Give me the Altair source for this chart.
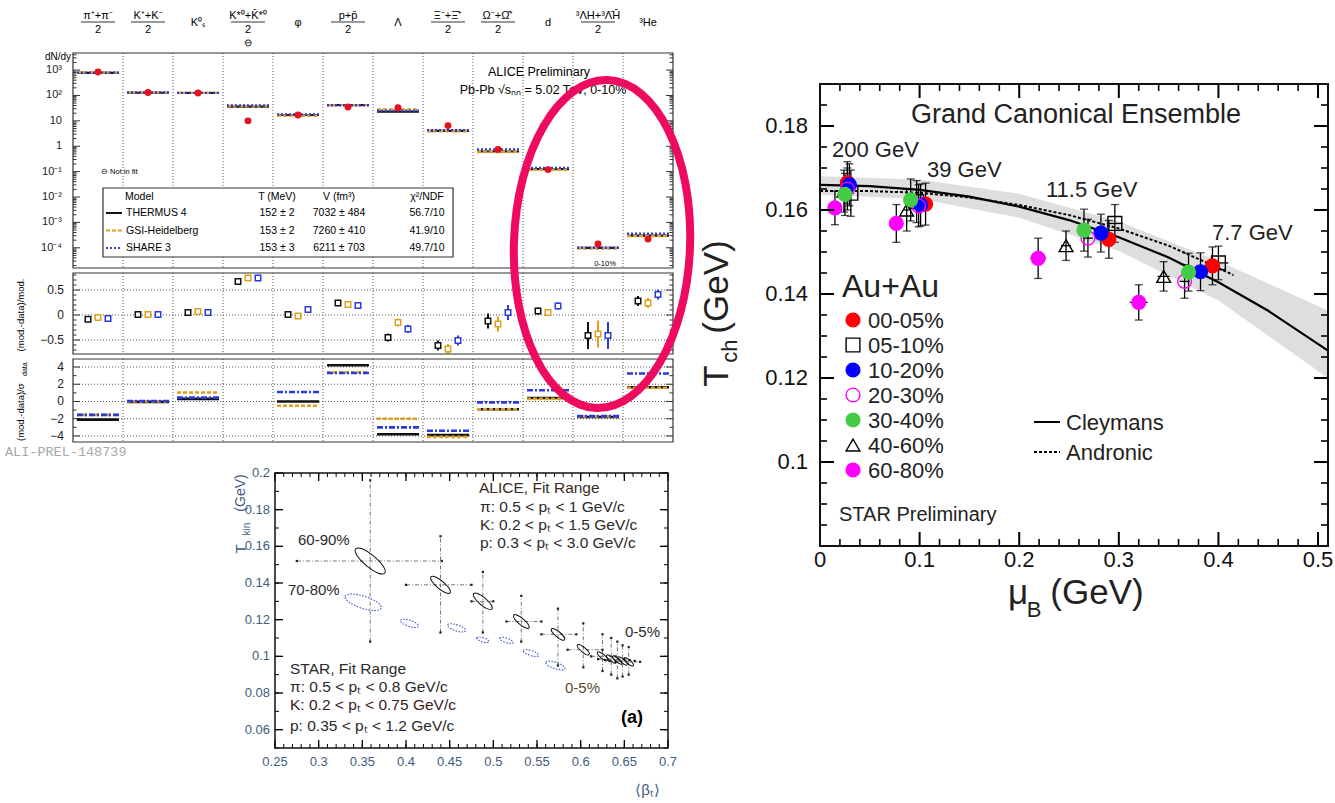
import math
import altair as alt
import pandas as pd

FONT = "Liberation Sans"
ONE = pd.DataFrame({"k": [0]})

# ============================ DATA ============================
# ---- ALICE Pb-Pb 5.02 TeV 0-10 %: species (column headers) ----
header_main = ["π⁺+π⁻", "K⁺+K⁻", "K⁰ₛ", "K*⁰+K\u0304*⁰", "φ", "p+p\u0304", "Λ",
               "Ξ⁻+Ξ\u0304⁺", "Ω⁻+Ω\u0304⁺", "d", "³ΛH+³Λ\u0304H\u0304", "³He"]
header_denom = ["2", "2", "", "2", "", "2", "", "2", "2", "", "2", ""]

# dN/dy : data and the three thermal-model fits
yield_data = [840, 130, 125, 10, 17, 35, 33, 6.5, 0.75, 0.12, 1.4e-4, 2.2e-4]
yield_thermus = [770, 128, 125, 36, 17, 42, 23, 4.0, 0.62, 0.125, 1.0e-4, 3.0e-4]
yield_gsi = [800, 130, 128, 38, 16, 41, 28, 3.9, 0.60, 0.12, 0.95e-4, 2.9e-4]
yield_share = [790, 130, 126, 40, 18, 41, 25, 4.3, 0.75, 0.14, 1.0e-4, 3.6e-4]

# (mod.-data)/mod.
dev_thermus = [-0.085, 0.01, 0.05, 0.67, 0.01, 0.24, -0.45, -0.61, -0.12, 0.08, -0.41, 0.28]
dev_gsi = [-0.05, 0.01, 0.07, 0.74, -0.02, 0.21, -0.15, -0.68, -0.18, 0.05, -0.38, 0.24]
dev_share = [-0.07, 0.01, 0.05, 0.74, 0.11, 0.19, -0.28, -0.51, 0.05, 0.18, -0.41, 0.41]
dev_err = [0.03, 0.02, 0.02, 0.03, 0.05, 0.03, 0.08, 0.10, 0.15, 0.07, 0.27, 0.10]

# (mod.-data)/sigma_data   (K* not in fit)
nsig_thermus = [-2.1, -0.05, 0.3, None, 0.0, 4.2, -3.8, -3.9, -0.9, 0.4, -1.8, 1.65]
nsig_gsi = [-1.55, 0.0, 1.05, None, -0.5, 3.4, -2.0, -4.1, -0.9, 0.3, -1.75, 1.6]
nsig_share = [-1.55, 0.05, 0.45, None, 1.1, 3.3, -3.0, -3.4, -0.1, 1.3, -1.7, 3.25]

model_names = ["THERMUS 4", "GSI-Heidelberg", "SHARE 3"]
model_T = ["152 ± 2", "153 ± 2", "153 ± 3"]
model_V = ["7032 ± 484", "7260 ± 410", "6211 ± 703"]
model_chi2 = ["56.7/10", "41.9/10", "49.7/10"]

yield_ticks = [1e-4, 1e-3, 1e-2, 1e-1, 1, 10, 100, 1000]
yield_tick_text = ["10⁻⁴", "10⁻³", "10⁻²", "10⁻¹", "1", "10", "10²", "10³"]
dev_ticks = [-0.5, 0, 0.5]
dev_tick_text = ["−0.5", "0", "0.5"]
dev_minor = [-0.7, -0.6, -0.4, -0.3, -0.2, -0.1, 0.1, 0.2, 0.3, 0.4, 0.6, 0.7, 0.8]
nsig_ticks = [-4, -2, 0, 2, 4]
nsig_tick_text = ["−4", "−2", "0", "2", "4"]
nsig_minor = [-3, -1, 1, 3]

# ---- T_kin vs <beta_T> (ALICE / STAR blast-wave) ----
alice_beta = [0.359, 0.4395, 0.488, 0.532, 0.574, 0.603, 0.625, 0.635, 0.642, 0.648, 0.655]
alice_tkin = [0.152, 0.139, 0.130, 0.119, 0.112, 0.1036, 0.100, 0.0985, 0.098, 0.0975, 0.097]
alice_beta_lo = [0.275, 0.400, 0.475, 0.515, 0.555, 0.585, 0.612, 0.620, 0.628, 0.633, 0.640]
alice_beta_hi = [0.441, 0.475, 0.500, 0.555, 0.595, 0.625, 0.640, 0.650, 0.656, 0.662, 0.668]
alice_tkin_lo = [0.108, 0.113, 0.113, 0.108, 0.095, 0.094, 0.092, 0.090, 0.088, 0.089, 0.090]
alice_tkin_hi = [0.196, 0.1655, 0.146, 0.133, 0.126, 0.118, 0.112, 0.110, 0.108, 0.106, 0.105]
star_beta = [0.351, 0.404, 0.458, 0.488, 0.515, 0.543, 0.571]
star_tkin = [0.1295, 0.118, 0.1155, 0.109, 0.1087, 0.1018, 0.095]
beta_ticks = [0.25, 0.3, 0.35, 0.4, 0.45, 0.5, 0.55, 0.6, 0.65, 0.7]
beta_tick_text = ["0.25", "0.3", "0.35", "0.4", "0.45", "0.5", "0.55", "0.6", "0.65", "0.7"]
tkin_ticks = [0.06, 0.08, 0.1, 0.12, 0.14, 0.16, 0.18, 0.2]
tkin_tick_text = ["0.06", "0.08", "0.1", "0.12", "0.14", "0.16", "0.18", "0.2"]

# ---- STAR T_ch vs mu_B (Grand Canonical Ensemble) ----
cent_labels = ["00-05%", "05-10%", "10-20%", "20-30%", "30-40%", "40-60%", "60-80%"]
mu_200 = [0.0275, 0.031, 0.0295, 0.0275, 0.025, 0.024, 0.015]
T_200 = [0.1665, 0.1640, 0.1660, 0.1650, 0.1637, 0.1645, 0.1605]
mu_39 = [0.106, 0.097, 0.101, 0.099, 0.091, 0.087, 0.0766]
T_39 = [0.1614, 0.1620, 0.1612, 0.1610, 0.1624, 0.1600, 0.1568]
mu_11p5 = [0.290, 0.296, 0.282, 0.269, 0.265, 0.247, 0.219]
T_11p5 = [0.1530, 0.1568, 0.1545, 0.1533, 0.1552, 0.1515, 0.1485]
mu_7p7 = [0.394, 0.400, 0.382, 0.366, 0.370, 0.345, 0.320]
T_7p7 = [0.1467, 0.1474, 0.1453, 0.1430, 0.1452, 0.1442, 0.1380]
Terr_200 = [0.0050, 0.0055, 0.0050, 0.0050, 0.0050, 0.0050, 0.0040]
Terr_39 = [0.0050, 0.0050, 0.0050, 0.0050, 0.0050, 0.0050, 0.0045]
Terr_11p5 = [0.0045, 0.0045, 0.0045, 0.0045, 0.0050, 0.0035, 0.0048]
Terr_7p7 = [0.0045, 0.0040, 0.0045, 0.0040, 0.0045, 0.0035, 0.0042]
muerr_200 = [0.003, 0.003, 0.003, 0.003, 0.003, 0.003, 0.003]
muerr_39 = [0.003, 0.004, 0.003, 0.003, 0.003, 0.003, 0.004]
muerr_11p5 = [0.005, 0.008, 0.005, 0.005, 0.005, 0.005, 0.008]
muerr_7p7 = [0.005, 0.010, 0.005, 0.005, 0.005, 0.006, 0.009]

cley_mu = [0.0, 0.05, 0.10, 0.15, 0.20, 0.25, 0.30, 0.35, 0.40, 0.45, 0.51]
cley_T = [0.1660, 0.1657, 0.1648, 0.1632, 0.1608, 0.1576, 0.1535, 0.1487, 0.1428, 0.1360, 0.1265]
andr_mu = [0.0, 0.05, 0.10, 0.15, 0.20, 0.25, 0.30, 0.35, 0.40, 0.415]
andr_T = [0.1645, 0.1645, 0.1641, 0.1630, 0.1612, 0.1588, 0.1556, 0.1515, 0.1462, 0.1445]
band_mu = [0.0, 0.1, 0.2, 0.3, 0.4, 0.51]
band_lo = [0.1637, 0.1627, 0.1582, 0.1503, 0.1385, 0.1200]
band_hi = [0.1680, 0.1672, 0.1638, 0.1572, 0.1478, 0.1360]
mu_ticks = [0.0, 0.1, 0.2, 0.3, 0.4, 0.5]
mu_tick_text = ["0", "0.1", "0.2", "0.3", "0.4", "0.5"]
tch_ticks = [0.1, 0.12, 0.14, 0.16, 0.18]
tch_tick_text = ["0.1", "0.12", "0.14", "0.16", "0.18"]

# ============================ STYLES / LAYOUT ============================
model_color = ["#111111", "#e0a01a", "#2a3ae0"]
model_dash = [[1, 0], [4, 2], [2, 2]]
model_width = [2.2, 2.6, 2.4]
nsig_dash = [[1, 0], [4, 2], [6, 2, 2, 2]]
cent_shape = ["circle", "square", "circle", "circle", "circle", "triangle-up", "circle"]
cent_stroke = ["#ff0000", "#000000", "#0000ff", "#ff00ff", "#44cc44", "#000000", "#ff00ff"]
cent_fill = ["#ff0000", "transparent", "#0000ff", "transparent", "#44cc44", "transparent", "#ff00ff"]
draw_order = ["05-10%", "40-60%", "00-05%", "10-20%", "20-30%", "30-40%", "60-80%"]
alice_contour_px = [38, 25, 24, 20, 17, 15, 13, 12, 12, 12, 12]
star_contour_px = [38, 19, 19, 13, 14, 16, 20]
ELL_H = "M-1,0 A1,0.32 0 1,1 1,0 A1,0.32 0 1,1 -1,0 Z"
ELL_V = "M0,-1 A0.537,1 0 1,1 0,1 A0.537,1 0 1,1 0,-1 Z"

# panel boxes (left, top, width, height) in page pixels
YP = (73, 53, 600, 215)
DP = (73, 273, 600, 81)
NP = (73, 359, 600, 83)
BP = (275, 473, 393, 275)
RP = (820, 84, 508, 462)


# ============================ HELPERS ============================
def S(domain, box, axis, log=False):
    x0, y0, w, h = box
    rng = [x0, x0 + w] if axis == "x" else [y0 + h, y0]
    if log:
        return alt.Scale(type="log", domain=domain, range=rng, nice=False)
    return alt.Scale(domain=domain, range=rng, nice=False, zero=False)


def X(f, sc):
    return alt.X(f, type="quantitative", scale=sc, axis=None)


def Y(f, sc):
    return alt.Y(f, type="quantitative", scale=sc, axis=None)


def txt(text, x, y, size, align="left", color="black", angle=0, weight="normal",
        font=FONT, baseline="middle"):
    props = dict(text=text, align=align, baseline=baseline, fontSize=size,
                 color=color, font=font, fontWeight=weight)
    if angle:
        props["angle"] = angle
    return alt.Chart(ONE).mark_text(**props).encode(x=alt.value(x), y=alt.value(y))


def rect(x0, x1, y0, y1, stroke="black", sw=1.0, fill=None):
    props = dict(stroke=stroke, strokeWidth=sw)
    if fill:
        props["fill"] = fill
    else:
        props["fillOpacity"] = 0
    return alt.Chart(ONE).mark_rect(**props).encode(
        x=alt.value(x0), x2=alt.value(x1), y=alt.value(y0), y2=alt.value(y1))


def frame(box, color, sw):
    x0, y0, w, h = box
    return rect(x0, x0 + w, y0, y0 + h, stroke=color, sw=sw)


def seg(x0, x1, y, color="black", sw=1.0, dash=None):
    props = dict(color=color, strokeWidth=sw)
    if dash:
        props["strokeDash"] = dash
    return alt.Chart(ONE).mark_rule(**props).encode(
        x=alt.value(x0), x2=alt.value(x1), y=alt.value(y))


def side_yticks(values, sc, box, length, color="black", sw=1.0):
    x0, y0, w, h = box
    df = pd.DataFrame({"v": values})
    return [
        alt.Chart(df).mark_rule(color=color, strokeWidth=sw).encode(
            y=Y("v", sc), x=alt.value(x0), x2=alt.value(x0 + length)),
        alt.Chart(df).mark_rule(color=color, strokeWidth=sw).encode(
            y=Y("v", sc), x=alt.value(x0 + w), x2=alt.value(x0 + w - length)),
    ]


def side_xticks(values, sc, box, length, color="black", sw=1.0):
    x0, y0, w, h = box
    df = pd.DataFrame({"v": values})
    return [
        alt.Chart(df).mark_rule(color=color, strokeWidth=sw).encode(
            x=X("v", sc), y=alt.value(y0 + h), y2=alt.value(y0 + h - length)),
        alt.Chart(df).mark_rule(color=color, strokeWidth=sw).encode(
            x=X("v", sc), y=alt.value(y0), y2=alt.value(y0 + length)),
    ]


def ylabels(values, texts, sc, x_right, size, color="#222"):
    df = pd.DataFrame({"v": values, "t": texts})
    return alt.Chart(df).mark_text(align="right", baseline="middle", fontSize=size, color=color).encode(
        y=Y("v", sc), x=alt.value(x_right), text="t:N")


def xlabels(values, texts, sc, y_mid, size, color="#222"):
    df = pd.DataFrame({"v": values, "t": texts})
    return alt.Chart(df).mark_text(align="center", baseline="middle", fontSize=size, color=color).encode(
        x=X("v", sc), y=alt.value(y_mid), text="t:N")


def hgrid(values, sc, box):
    x0, y0, w, h = box
    df = pd.DataFrame({"v": values})
    return alt.Chart(df).mark_rule(color="#555", strokeDash=[1, 2], strokeWidth=1).encode(
        y=Y("v", sc), x=alt.value(x0), x2=alt.value(x0 + w))


L = []

# ====================== PANEL 1 : ALICE yields + deviations ======================
xs = S([0, 12], YP, "x")
ys_yield = S([1.6e-5, 4.7e3], YP, "y", log=True)
ys_dev = S([-0.78, 0.84], DP, "y")
ys_nsig = S([-4.7, 4.93], NP, "y")

sep_df = pd.DataFrame({"b": list(range(1, 12))})
for box in (YP, DP, NP):
    L.append(alt.Chart(sep_df).mark_rule(color="#555", strokeDash=[1, 2], strokeWidth=1).encode(
        x=X("b", xs), y=alt.value(box[1]), y2=alt.value(box[1] + box[3])))

# column headers
hdr = pd.DataFrame({"xc": [i + 0.5 for i in range(12)], "main": header_main, "den": header_denom})
hfrac = hdr[hdr.den != ""].copy()
hfrac["xl"] = hfrac.xc - 0.34
hfrac["xr"] = hfrac.xc + 0.34
hsing = hdr[hdr.den == ""]
L += [
    alt.Chart(hfrac).mark_text(fontSize=11, baseline="middle").encode(
        x=X("xc", xs), y=alt.value(16), text="main:N"),
    alt.Chart(hfrac).mark_rule(color="black", strokeWidth=0.8).encode(
        x=X("xl", xs), x2="xr:Q", y=alt.value(22)),
    alt.Chart(hfrac).mark_text(fontSize=11, baseline="middle").encode(
        x=X("xc", xs), y=alt.value(30), text="den:N"),
    alt.Chart(hsing).mark_text(fontSize=11, baseline="middle").encode(
        x=X("xc", xs), y=alt.value(23), text="main:N"),
    alt.Chart(pd.DataFrame({"xc": [3.5]})).mark_text(fontSize=10, text="⊖").encode(
        x=X("xc", xs), y=alt.value(43)),
]

# yields: models then data
for mi, vals in enumerate([yield_thermus, yield_gsi, yield_share]):
    df = pd.DataFrame({"x0": [i + 0.08 for i in range(12)],
                       "x1": [i + 0.92 for i in range(12)], "v": vals})
    L.append(alt.Chart(df).mark_rule(color=model_color[mi], strokeDash=model_dash[mi],
                                     strokeWidth=model_width[mi]).encode(
        x=X("x0", xs), x2="x1:Q", y=Y("v", ys_yield)))
ydf = pd.DataFrame({"xc": [i + 0.5 for i in range(12)], "v": yield_data})
L.append(alt.Chart(ydf).mark_point(filled=True, color="#e8101a", size=48, opacity=1).encode(
    x=X("xc", xs), y=Y("v", ys_yield)))

minor_log = [k * 10 ** d for d in range(-5, 4) for k in range(2, 10)
             if 1.6e-5 <= k * 10 ** d <= 4.7e3]
L += side_yticks(yield_ticks, ys_yield, YP, 7, color="#333")
L += side_yticks(minor_log, ys_yield, YP, 3.5, color="#333")
L.append(ylabels(yield_ticks, yield_tick_text, ys_yield, 62, 11))

# legend box
L.append(rect(103, 453, 188, 257, stroke="#333", sw=1.2, fill="white"))
L += [
    txt("Model", 125, 197, 10.5),
    txt("T (MeV)", 277, 197, 10.5, align="center"),
    txt("V (fm³)", 339, 197, 10.5, align="center"),
    txt("χ²/NDF", 427, 197, 10.5, align="center"),
]
for mi in range(3):
    ry = 213 + 17.5 * mi
    L += [
        seg(106, 122, ry, color=model_color[mi], sw=2, dash=model_dash[mi] if mi else None),
        txt(model_names[mi], 126, ry, 10.5),
        txt(model_T[mi], 277, ry, 10.5, align="center"),
        txt(model_V[mi], 339, ry, 10.5, align="center"),
        txt(model_chi2[mi], 427, ry, 10.5, align="center"),
    ]
L += [
    txt("⊖ Not in fit", 101, 172, 7.5),
    txt("ALICE Preliminary", 539, 72, 12.5, align="center"),
    txt("Pb-Pb √sₙₙ = 5.02 TeV, 0-10%", 543, 90, 12.5, align="center"),
    txt("0-10%", 605, 264, 7.5, align="center"),
    txt("dN/dy", 71, 57, 10, align="right"),
    frame(YP, "#333", 1.2),
]

# deviations
L.append(hgrid(dev_ticks, ys_dev, DP))
L += side_yticks(dev_ticks, ys_dev, DP, 7, color="#333")
L += side_yticks(dev_minor, ys_dev, DP, 3.5, color="#333")
L.append(ylabels(dev_ticks, dev_tick_text, ys_dev, 64, 12))
dev_off = [-0.2, 0.0, 0.2]
for mi, vals in enumerate([dev_thermus, dev_gsi, dev_share]):
    df = pd.DataFrame({"x": [i + 0.5 + dev_off[mi] for i in range(12)], "v": vals,
                       "lo": [v - e for v, e in zip(vals, dev_err)],
                       "hi": [v + e for v, e in zip(vals, dev_err)]})
    L += [
        alt.Chart(df).mark_rule(color=model_color[mi], strokeWidth=2).encode(
            x=X("x", xs), y=Y("lo", ys_dev), y2="hi:Q"),
        alt.Chart(df).mark_point(shape="square", filled=True, fill="white", stroke=model_color[mi],
                                 strokeWidth=1.5, size=30, opacity=1).encode(
            x=X("x", xs), y=Y("v", ys_dev)),
    ]
L += [txt("(mod.-data)/mod.", 21, 315, 9.5, align="center", angle=270), frame(DP, "#333", 1.2)]

# n-sigma
L.append(hgrid(nsig_ticks, ys_nsig, NP))
L += side_yticks(nsig_ticks, ys_nsig, NP, 7, color="#333")
L += side_yticks(nsig_minor, ys_nsig, NP, 3.5, color="#333")
L.append(ylabels(nsig_ticks, nsig_tick_text, ys_nsig, 64, 12))
for mi, vals in enumerate([nsig_thermus, nsig_gsi, nsig_share]):
    df = pd.DataFrame({"x0": [i + 0.08 for i in range(12)], "x1": [i + 0.92 for i in range(12)],
                       "v": vals}).dropna()
    L.append(alt.Chart(df).mark_rule(color=model_color[mi], strokeDash=nsig_dash[mi],
                                     strokeWidth=2.6).encode(
        x=X("x0", xs), x2="x1:Q", y=Y("v", ys_nsig)))
L += [
    txt("(mod.-data)/σ", 21, 441, 9.5, align="left", angle=270),
    txt("data", 25, 376, 7, align="left", angle=270),
    txt("ALI-PREL-148739", 5, 452, 13.5, color="#a8a8a8", font="Liberation Mono"),
    frame(NP, "#333", 1.2),
]

# ====================== PANEL 2 : T_kin vs <beta_T> ======================
xb = S([0.25, 0.7], BP, "x")
yb = S([0.05, 0.2], BP, "y")
LABC = "#3d5d80"
adf = pd.DataFrame({"b": alice_beta, "t": alice_tkin, "blo": alice_beta_lo, "bhi": alice_beta_hi,
                    "tlo": alice_tkin_lo, "thi": alice_tkin_hi,
                    "s": [p * p for p in alice_contour_px]})
sdf = pd.DataFrame({"b": star_beta, "t": star_tkin, "s": [p * p for p in star_contour_px]})
ends = pd.DataFrame({"b": alice_beta_lo + alice_beta_hi + alice_beta + alice_beta,
                     "t": alice_tkin + alice_tkin + alice_tkin_lo + alice_tkin_hi})
minor_beta = [round(0.25 + 0.01 * k, 2) for k in range(46)]
minor_tkin = [round(0.05 + 0.01 * k, 2) for k in range(16)]
L += [
    alt.Chart(adf).mark_rule(color="#666", strokeDash=[4, 2, 1, 2], strokeWidth=0.9).encode(
        x=X("blo", xb), x2="bhi:Q", y=Y("t", yb)),
    alt.Chart(adf).mark_rule(color="#666", strokeDash=[4, 2, 1, 2], strokeWidth=0.9).encode(
        x=X("b", xb), y=Y("tlo", yb), y2="thi:Q"),
    alt.Chart(ends).mark_point(filled=True, color="#222", size=5, shape="square", opacity=1).encode(
        x=X("b", xb), y=Y("t", yb)),
    alt.Chart(sdf).mark_point(shape=ELL_H, filled=False, color="#3a4fd0", stroke="#3a4fd0",
                              strokeWidth=1.1, strokeDash=[1.5, 1.5], angle=18, opacity=1).encode(
        x=X("b", xb), y=Y("t", yb), size=alt.Size("s:Q", scale=None, legend=None)),
    alt.Chart(adf).mark_point(shape=ELL_H, filled=False, color="#111", stroke="#111",
                              strokeWidth=1.0, angle=40, opacity=1).encode(
        x=X("b", xb), y=Y("t", yb), size=alt.Size("s:Q", scale=None, legend=None)),
]
L += side_xticks(beta_ticks, xb, BP, 8, sw=1.3)
L += side_xticks(minor_beta, xb, BP, 4, sw=1)
L += side_yticks(tkin_ticks, yb, BP, 8, sw=1.3)
L += side_yticks(minor_tkin, yb, BP, 4, sw=1)
L += [
    xlabels(beta_ticks, beta_tick_text, xb, 762, 13, color=LABC),
    ylabels(tkin_ticks, tkin_tick_text, yb, 270, 13, color=LABC),
    frame(BP, "#111", 1.5),
]
TXTC = "#2a2a2a"
L += [
    txt("ALICE, Fit Range", 479, 488, 15.5, color="#3b2a22"),
    txt("π: 0.5 < pₜ < 1 GeV/c", 480, 507, 15.5, color=TXTC),
    txt("K: 0.2 < pₜ < 1.5 GeV/c", 480, 525, 15.5, color=TXTC),
    txt("p: 0.3 < pₜ < 3.0 GeV/c", 480, 543, 15.5, color=TXTC),
    txt("60-90%", 298, 540, 15, color=TXTC),
    txt("70-80%", 288, 590, 15, color=TXTC),
    txt("0-5%", 625, 632, 15, color=TXTC),
    txt("0-5%", 565, 688, 15, color="#5a4a30"),
    txt("STAR, Fit Range", 290, 669, 15.5, color=TXTC),
    txt("π: 0.5 < pₜ < 0.8 GeV/c", 290, 687, 15.5, color=TXTC),
    txt("K: 0.2 < pₜ < 0.75 GeV/c", 290, 705, 15.5, color="#3a2020"),
    txt("p: 0.35 < pₜ < 1.2 GeV/c", 290, 726, 15.5, color=TXTC),
    txt("(a)", 632, 718, 18, align="center", weight="bold"),
    txt("(GeV)", 241, 493, 14, align="center", angle=270, color=LABC),
    txt("kin", 247, 529, 10, align="center", angle=270, color=LABC),
    txt("T", 241, 549, 15, align="center", angle=270, color=LABC),
    txt("⟨βₜ⟩", 660, 790, 15, align="right", color=LABC),
]

# ====================== PANEL 3 : T_ch vs mu_B ======================
xr = S([0, 0.51], RP, "x")
yr = S([0.08, 0.19], RP, "y")
shape_s = alt.Scale(domain=cent_labels, range=cent_shape)
stroke_s = alt.Scale(domain=cent_labels, range=cent_stroke)
fill_s = alt.Scale(domain=cent_labels, range=cent_fill)

rows = []
for e, mus, ts, te, me in [("200 GeV", mu_200, T_200, Terr_200, muerr_200),
                           ("39 GeV", mu_39, T_39, Terr_39, muerr_39),
                           ("11.5 GeV", mu_11p5, T_11p5, Terr_11p5, muerr_11p5),
                           ("7.7 GeV", mu_7p7, T_7p7, Terr_7p7, muerr_7p7)]:
    for ci, c in enumerate(cent_labels):
        rows.append(dict(energy=e, cent=c, mu=mus[ci], T=ts[ci], Tlo=ts[ci] - te[ci],
                         Thi=ts[ci] + te[ci], mlo=mus[ci] - me[ci], mhi=mus[ci] + me[ci],
                         o=draw_order.index(c)))
pts = pd.DataFrame(rows).sort_values(["o", "energy"]).reset_index(drop=True)

band_df = pd.DataFrame({"mu": band_mu, "lo": band_lo, "hi": band_hi})
cley_df = pd.DataFrame({"mu": cley_mu, "T": cley_T})
andr_df = pd.DataFrame({"mu": andr_mu, "T": andr_T})
minor_mu = [round(0.02 * k, 2) for k in range(26) if (2 * k) % 10 != 0]
minor_T = [round(0.08 + 0.005 * k, 3) for k in range(23)]

L += [
    alt.Chart(band_df).mark_area(color="#c9c9c9", opacity=0.6, stroke="#aaaaaa",
                                 strokeWidth=0.6, strokeDash=[1, 2]).encode(
        x=X("mu", xr), y=Y("lo", yr), y2="hi:Q"),
    alt.Chart(cley_df).mark_line(color="black", strokeWidth=2.2).encode(x=X("mu", xr), y=Y("T", yr)),
    alt.Chart(andr_df).mark_line(color="black", strokeWidth=2, strokeDash=[3, 2]).encode(
        x=X("mu", xr), y=Y("T", yr)),
    alt.Chart(pts).mark_rule(color="black", strokeWidth=1.3).encode(
        x=X("mu", xr), y=Y("Tlo", yr), y2="Thi:Q"),
    alt.Chart(pts).mark_rule(color="black", strokeWidth=1.3).encode(
        x=X("mlo", xr), x2="mhi:Q", y=Y("T", yr)),
    alt.Chart(pts).mark_tick(orient="horizontal", size=8, thickness=1.3, color="black").encode(
        x=X("mu", xr), y=Y("Tlo", yr)),
    alt.Chart(pts).mark_tick(orient="horizontal", size=8, thickness=1.3, color="black").encode(
        x=X("mu", xr), y=Y("Thi", yr)),
    alt.Chart(pts).mark_point(filled=True, size=190, strokeWidth=1.4, opacity=1).encode(
        x=X("mu", xr), y=Y("T", yr),
        shape=alt.Shape("cent:N", scale=shape_s, legend=None),
        stroke=alt.Stroke("cent:N", scale=stroke_s, legend=None),
        fill=alt.Fill("cent:N", scale=fill_s, legend=None),
        order=alt.Order("o:Q")),
]
L += side_xticks(mu_ticks, xr, RP, 14, sw=2)
L += side_xticks(minor_mu, xr, RP, 7, sw=1.6)
L += side_yticks(tch_ticks, yr, RP, 14, sw=2)
L += side_yticks(minor_T, yr, RP, 7, sw=1.6)
L += [
    xlabels(mu_ticks, mu_tick_text, xr, 560, 22, color="#111"),
    ylabels(tch_ticks, tch_tick_text, yr, 808, 22, color="#111"),
    frame(RP, "#111", 2),
]
for i, c in enumerate(cent_labels):
    L += [
        alt.Chart(pd.DataFrame({"cent": [c]})).mark_point(filled=True, size=190, strokeWidth=1.4,
                                                          opacity=1).encode(
            x=alt.value(853), y=alt.value(320 + 25 * i),
            shape=alt.Shape("cent:N", scale=shape_s, legend=None),
            stroke=alt.Stroke("cent:N", scale=stroke_s, legend=None),
            fill=alt.Fill("cent:N", scale=fill_s, legend=None)),
        txt(c, 868, 321 + 25 * i, 22, color="#222"),
    ]
L += [
    txt("Grand Canonical Ensemble", 1076, 115, 27, align="center", color="#222"),
    txt("200 GeV", 832, 150, 22, color="#222"),
    txt("39 GeV", 927, 170, 22, color="#222"),
    txt("11.5 GeV", 1046, 190, 22, color="#222"),
    txt("7.7 GeV", 1212, 233, 22, color="#222"),
    txt("Au+Au", 842, 287, 32, color="#222"),
    seg(1034, 1060, 422, sw=2),
    txt("Cleymans", 1066, 423, 22, color="#222"),
    seg(1034, 1060, 452, sw=2, dash=[3, 2]),
    txt("Andronic", 1066, 453, 22, color="#222"),
    txt("STAR Preliminary", 839, 515, 20, color="#222"),
    txt("(GeV)", 717, 287, 35, align="center", angle=270, color="#222"),
    txt("ch", 730, 351, 22, align="center", angle=270, color="#222"),
    txt("T", 717, 376, 35, align="center", angle=270, color="#222"),
    txt("μ", 1018, 593, 35, align="center", color="#222"),
    txt("B", 1034, 610, 22, align="center", color="#222"),
    txt("(GeV)", 1097, 593, 35, align="center", color="#222"),
]

# highlight ellipse over the light-nuclei columns (drawn last, on top)
L.append(alt.Chart(ONE).mark_point(shape=ELL_V, size=107584, filled=False, color="#ee0a5e",
                                   stroke="#ee0a5e", strokeWidth=8, opacity=1, angle=2).encode(
    x=alt.value(602), y=alt.value(244)))

chart = alt.layer(*L).resolve_scale(x="independent", y="independent").properties(
    width=1335, height=803, padding=0, background="white",
    autosize=alt.AutoSizeParams(type="none"),
).configure(font=FONT).configure_view(strokeOpacity=0)

chart.save("out.html", embed_options={"renderer": "svg", "actions": False})
